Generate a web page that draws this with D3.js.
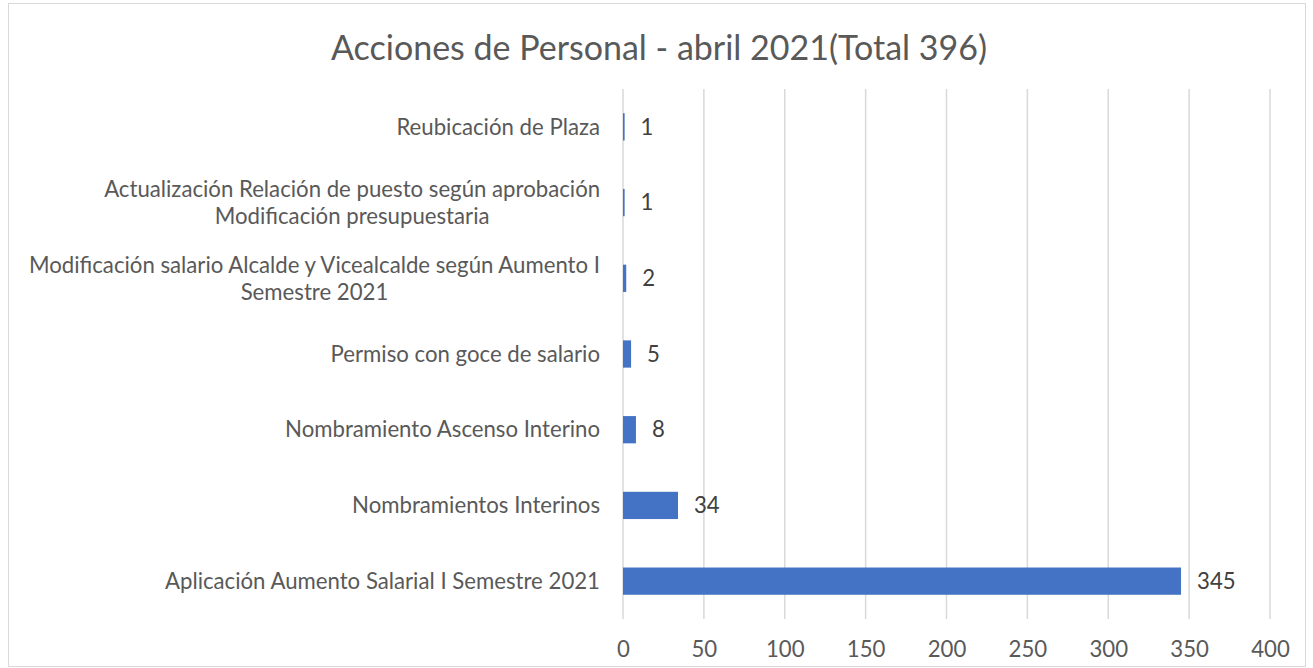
<!doctype html>
<html lang="es">
<head>
<meta charset="utf-8">
<title>Acciones de Personal</title>
<style>
body { margin: 0; background: #fff; font-family: Lato, "Open Sans", sans-serif; }
svg text { fill: #595959; }
</style>
</head>
<body>
<svg id="chart" width="1313" height="668"></svg>
<script src="https://cdn.jsdelivr.net/npm/d3@7"></script>
<script>
// data, bottom to top as in the picture
var categories = [
  "Aplicación Aumento Salarial I Semestre 2021",
  "Nombramientos Interinos",
  "Nombramiento Ascenso Interino",
  "Permiso con goce de salario",
  "Modificación salario Alcalde y Vicealcalde según Aumento I|Semestre 2021",
  "Actualización Relación de puesto según aprobación|Modificación presupuestaria",
  "Reubicación de Plaza"
];
var values = [345, 34, 8, 5, 2, 1, 1];
var xTicks = [0, 50, 100, 150, 200, 250, 300, 350, 400];
var title = "Acciones de Personal - abril 2021(Total 396)";

var svg = d3.select("#chart");
var width = 1313, height = 668;
var margin = {left: 623, right: 43, top: 89, bottom: 49};
var fs = "22.2px";

// chart border
svg.append("rect")
  .attr("x", 8.5).attr("y", 3.5)
  .attr("width", 1297).attr("height", 663)
  .attr("fill", "none").attr("stroke", "#d9d9d9");

svg.append("text")
  .attr("x", 659).attr("y", 60)
  .attr("text-anchor", "middle")
  .style("font-size", "34px")
  .text(title);

var x = d3.scaleLinear().domain([0, 400]).range([margin.left, width - margin.right]);
var y = d3.scaleBand()
  .domain(d3.range(categories.length))
  .range([height - margin.bottom, margin.top])
  .paddingInner(0.64).paddingOuter(0.32);

// grid
svg.append("g")
  .selectAll("line")
  .data(xTicks)
  .enter().append("line")
  .attr("x1", function(d) { return x(d); })
  .attr("x2", function(d) { return x(d); })
  .attr("y1", margin.top).attr("y2", height - margin.bottom)
  .attr("stroke", "#d9d9d9").attr("stroke-width", 1.5);

// x axis labels
var xAxis = d3.axisBottom(x).tickValues(xTicks).tickSize(0).tickPadding(22);
var gx = svg.append("g")
  .attr("transform", "translate(0," + (height - margin.bottom) + ")")
  .call(xAxis);
gx.select(".domain").remove();
gx.selectAll("text").style("font-size", fs).style("font-family", "Lato, sans-serif").attr("fill", "#595959");

// bars
svg.append("g")
  .selectAll("rect")
  .data(values)
  .enter().append("rect")
  .attr("x", x(0))
  .attr("y", function(d, i) { return y(i); })
  .attr("width", function(d) { return x(d) - x(0); })
  .attr("height", y.bandwidth())
  .attr("fill", "#4472c4");

// value labels
svg.append("g")
  .selectAll("text")
  .data(values)
  .enter().append("text")
  .attr("x", function(d) { return x(d) + 16; })
  .attr("y", function(d, i) { return y(i) + y.bandwidth() / 2; })
  .attr("dy", "0.35em")
  .style("font-size", fs)
  .style("fill", "#404040")
  .text(function(d) { return d; });

// category labels
var cat = svg.append("g")
  .selectAll("text")
  .data(categories)
  .enter().append("text")
  .attr("text-anchor", "middle")
  .style("font-size", fs)
  .attr("y", function(d, i) { return y(i) + y.bandwidth() / 2; });

cat.each(function(d) {
  var lines = d.split("|");
  var t = d3.select(this);
  var tmp = lines.map(function(l) {
    return t.append("tspan").text(l);
  });
  var w = d3.max(tmp, function(s) { return s.node().getComputedTextLength(); });
  var cx = 600 - w / 2;
  tmp.forEach(function(s, k) {
    s.attr("x", cx)
     .attr("dy", k == 0 ? (0.35 - (lines.length - 1) * 0.61) + "em" : "1.22em");
  });
});
</script>
</body>
</html>
